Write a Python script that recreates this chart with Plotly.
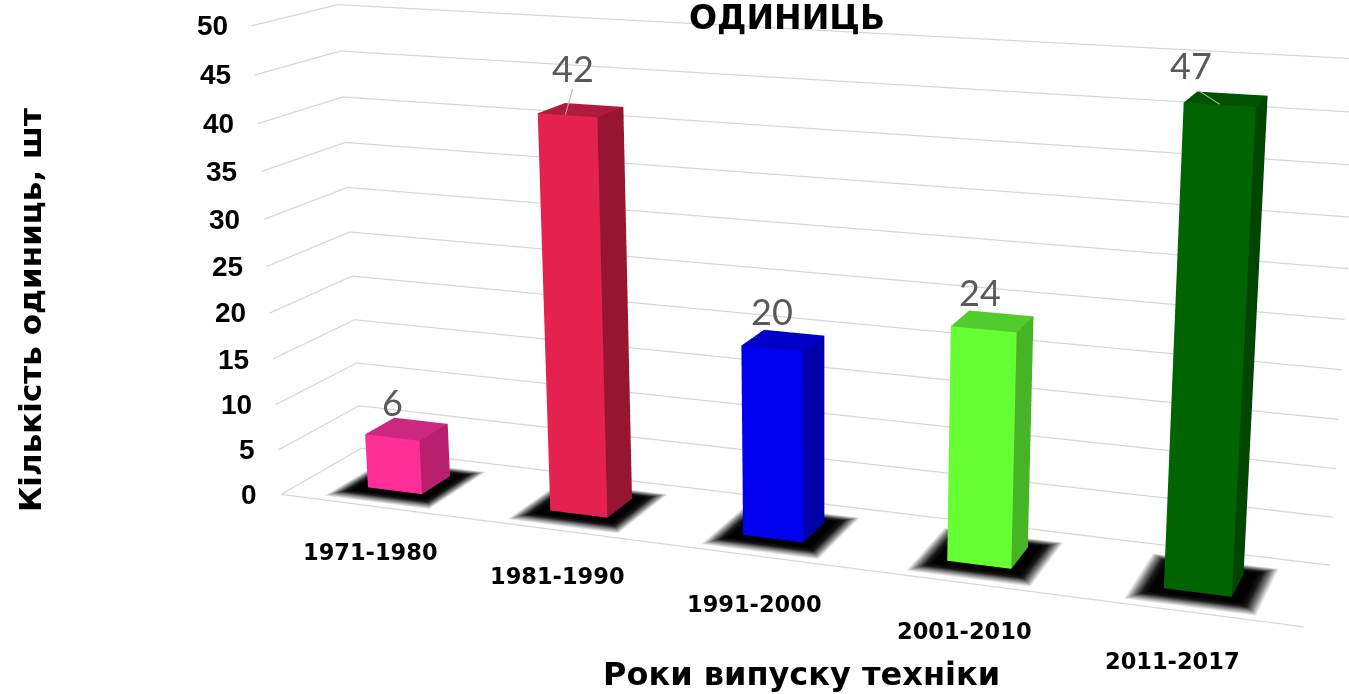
import numpy as np
import plotly.graph_objects as go

categories = ["1971-1980", "1981-1990", "1991-2000", "2001-2010", "2011-2017"]
values = [6, 42, 20, 24, 47]
z_ticks = [0, 5, 10, 15, 20, 25, 30, 35, 40, 45, 50]
front_col = ["#FF2D96", "#E5214F", "#0000F0", "#66FF33", "#006400"]
side_col = ["#B81E6E", "#961530", "#0000A8", "#47B326", "#004600"]
top_col = ["#CC2880", "#B01A3C", "#0000C8", "#52CC2A", "#005200"]

# Page window and the larger canvas the long-lens scene needs
W, H = 1349, 694
FW, FH, TOP = 1656, 1989, 665
def px(x): return x / FW
def py(y): return 1 - (y + TOP) / FH

eye = dict(x=1.634, y=-4.329, z=1.202)
center = dict(x=0.094, y=0, z=-0.069)
up = dict(x=-0.001, y=0, z=1)
Ax, Ay = 2.163, 0.333
bw, y0, y1 = 0.302, 0.304, 0.678

fig = go.Figure()
GRID = dict(color="#D6D6D6", width=2.5)
for z in z_ticks:
    fig.add_trace(go.Scatter3d(x=[0, 0, 5], y=[0, 1, 1], z=[z, z, z], mode="lines", line=GRID, hoverinfo="skip", showlegend=False))
fig.add_trace(go.Scatter3d(x=[0, 5], y=[0, 0], z=[0, 0], mode="lines", line=GRID, hoverinfo="skip", showlegend=False))

FLAT = dict(ambient=1, diffuse=0, specular=0, fresnel=0)
def shadow(i):
    c = i + .5
    rings = [(.05, .07, .04, "#000000"), (.08, .12, .08, "#1A1A1A"), (.11, .17, .12, "#808080"), (.14, .24, .16, "#FFFFFF")]
    xs, ys, zs, vc = [], [], [], []
    for hw, f, b, col in rings:
        h = bw/2 + hw
        xs += [c-h, c+h, c+h, c-h]; ys += [y0-f, y0-f, y1+b, y1+b]; zs += [.02]*4; vc += [col]*4
    I, J, K = [0, 0], [1, 2], [2, 3]
    for r in range(3):
        o = 4*r
        for q in range(4):
            a, b = o+q, o+(q+1) % 4
            I += [a, b]; J += [b, b+4]; K += [a+4, a+4]
    return go.Mesh3d(x=xs, y=ys, z=zs, i=I, j=J, k=K, vertexcolor=vc, lighting=FLAT, hoverinfo="skip", showlegend=False)
def bar(i):
    c = i + .5; v = values[i]; a, b = c - bw/2, c + bw/2
    xs = [a, b, b, a, a, b, b, a]; ys = [y0, y0, y1, y1]*2; zs = [0]*4 + [v]*4
    I = [0, 0, 1, 1, 4, 4, 3, 3, 2, 2, 0, 0]; J = [1, 5, 2, 6, 5, 6, 2, 6, 3, 7, 3, 7]; K = [5, 4, 6, 5, 6, 7, 6, 7, 7, 6, 7, 4]
    fc = [front_col[i]]*2 + [side_col[i]]*2 + [top_col[i]]*2 + [front_col[i]]*6
    return go.Mesh3d(x=xs, y=ys, z=zs, i=I, j=J, k=K, facecolor=fc, flatshading=True, lighting=FLAT, hoverinfo="skip", showlegend=False)
for i in range(5): fig.add_trace(shadow(i))
for i in range(5): fig.add_trace(bar(i))

# Leader lines for the two tall bars
LEAD = dict(color="#B4B4B4", width=2)
fig.add_trace(go.Scatter3d(x=[1.49, 1.53], y=[y0, y0], z=[values[1]+.05, values[1]+2.7], mode="lines", line=LEAD, hoverinfo="skip", showlegend=False))
fig.add_trace(go.Scatter3d(x=[4.5, 4.5-bw/2+.01], y=[y0, y1], z=[values[4]+.05, values[4]+.05], mode="lines", line=LEAD, hoverinfo="skip", showlegend=False))

ann = []
for z in z_ticks:
    ann.append(dict(x=0, y=0, z=z, text=f"<b>{z}</b>", showarrow=False, xanchor="right", xshift=-22, font=dict(family="Liberation Sans", size=28, color="black")))
cat_shift = [(0, -46), (0, -46), (0, -48), (0, -48), (-15, -49)]
for i, c in enumerate(categories):
    ann.append(dict(x=i+.5, y=0, z=0, text=f"<b>{c}</b>", showarrow=False, xshift=cat_shift[i][0], yshift=cat_shift[i][1], font=dict(family="DejaVu Sans", size=22.5, color="black")))
lab_font = dict(family="Lato", size=36, color="#595959", weight=400)
shifts = [(0, 36), (6, 47), (0, 38), (-4, 37), (-29, 40)]
for i, v in enumerate(values):
    ann.append(dict(x=i+.5, y=y0, z=v, text=str(v), font=lab_font, showarrow=False, xshift=shifts[i][0], yshift=shifts[i][1]))
OFF = dict(visible=False)
CTR = dict(xref="paper", yref="paper", xanchor="center", yanchor="middle", showarrow=False)
fig.update_layout(
    width=FW, height=FH, autosize=False, margin=dict(l=0, r=0, t=0, b=0), paper_bgcolor="white", showlegend=False,
    scene=dict(domain=dict(x=[0, 1], y=[0, 1]),
        xaxis=dict(range=[0, 5], **OFF), yaxis=dict(range=[0, 1], **OFF), zaxis=dict(range=[0, 50], **OFF),
        aspectmode="manual", aspectratio=dict(x=Ax, y=Ay, z=1), dragmode="orbit",
        camera=dict(eye=eye, center=center, up=up), annotations=ann),
    annotations=[
        dict(text="<b>ОДИНИЦЬ</b>", x=px(787), y=py(17), font=dict(family="DejaVu Sans", size=33, color="black"), **CTR),
        dict(text="<b>Кількість одиниць, шт</b>", x=px(30), y=py(310), textangle=-90, font=dict(family="DejaVu Sans", size=31, color="black"), **CTR),
        dict(text="<b>Роки випуску техніки</b>", x=px(801), y=py(674), font=dict(family="DejaVu Sans", size=32, color="black"), **CTR),
    ])
shift_js = ("var g=document.getElementsByClassName('plotly-graph-div')[0];"
            "g.style.position='absolute';g.style.left='0px';g.style.top='-%dpx';"
            "document.documentElement.style.overflow='hidden';document.body.style.overflow='hidden';" % TOP)
fig.write_html("out.html", post_script=shift_js)
